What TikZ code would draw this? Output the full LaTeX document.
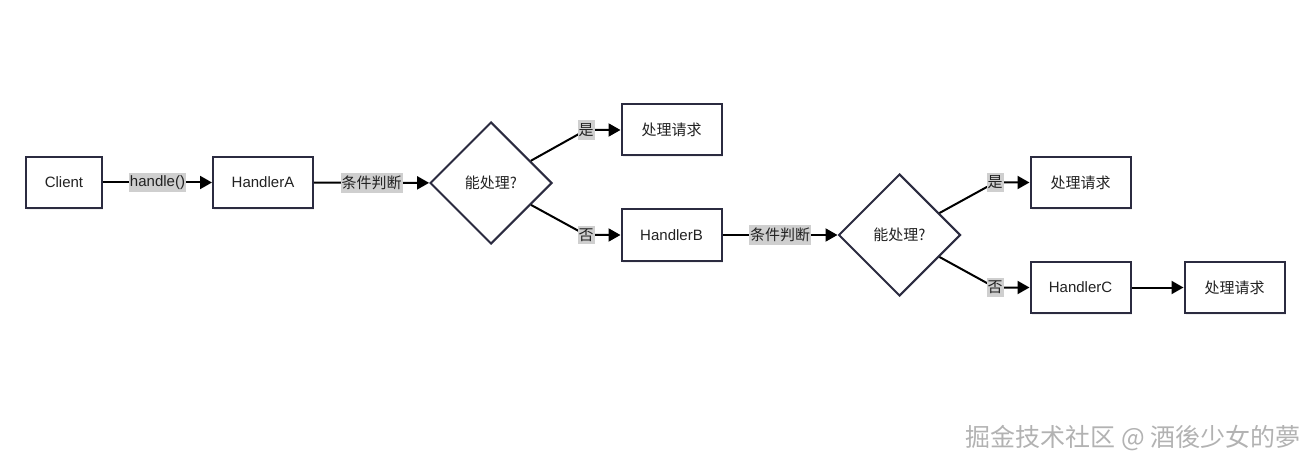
\documentclass[tikz,border=0pt]{standalone}
\usepackage{fontspec}
\setmainfont{Liberation Sans}
\newfontfamily\cjk{Noto Sans CJK SC}
\usetikzlibrary{shapes.geometric,arrows.meta,shadows}
\definecolor{boxline}{HTML}{2B2B40}
\definecolor{labelbg}{HTML}{CFCFCF}
\definecolor{txt}{HTML}{222222}
\tikzset{
box/.style={
	draw=boxline, line width=2pt, fill=white, text=txt,
	minimum width=100pt, minimum height=51pt, inner sep=0pt,
	drop shadow={shadow xshift=1pt, shadow yshift=-2pt, opacity=0.12}},
decision/.style={
	draw=boxline, line width=2pt, diamond, aspect=1, fill=white,
	minimum size=122pt, inner sep=0pt, text=txt},
cond/.style={fill=labelbg, text=txt, inner xsep=1pt, inner ysep=3pt},
flow/.style={line width=2pt, -{Triangle[length=12pt,width=13pt]}},
wmtext/.style={text=gray!60, font=\cjk\fontsize{25}{28}\selectfont}
}

\begin{document}
\begin{tikzpicture}[x=1pt, y=-1pt, font=\fontsize{15}{18}\selectfont]
	\useasboundingbox (0,0) rectangle (1316,470);
	% first handler
	\node[box, minimum width=76pt] (client) at (64,182.5) {Client};
	\node[box] (ha) at (263,182.5) {HandlerA};
	\node[decision] (d1) at (491,183) {\cjk 能处理?};
	\node[box] (ok1) at (671.5,130) {\cjk 处理请求};
	\node[box] (hb) at (671.5,235) {HandlerB};
	\coordinate (yes1) at (586,130);
	\coordinate (no1) at (586,235);
	% second handler
	\node[decision] (d2) at (899.5,235) {\cjk 能处理?};
	\node[box] (ok2) at (1080.5,182.5) {\cjk 处理请求};
	\node[box] (hc) at (1080.5,287.5) {HandlerC};
	\node[box] (ok3) at (1234.5,287.5) {\cjk 处理请求};
	\coordinate (yes2) at (995,182.5);
	\coordinate (no2) at (995,287.5);

	\draw[flow] (client) -- node[cond] (lcall) {handle()} (ha);
	\draw[flow] (ha) -- node[cond] (lcond1) {\cjk 条件判断} (d1);
	\draw[flow] (d1) -- (yes1) node[cond] (lyes1) {\cjk 是} -- (ok1);
	\draw[flow] (d1) -- (no1) node[cond] (lno1) {\cjk 否} -- (hb);
	\draw[flow] (hb) -- node[cond] (lcond2) {\cjk 条件判断} (d2);
	\draw[flow] (d2) -- (yes2) node[cond] (lyes2) {\cjk 是} -- (ok2);
	\draw[flow] (d2) -- (no2) node[cond] (lno2) {\cjk 否} -- (hc);
	\draw[flow] (hc) -- (ok3);

	\node[wmtext] (wm) at (1133,438) {掘金技术社区 @ 酒後少女的夢};
\end{tikzpicture}
\end{document}
